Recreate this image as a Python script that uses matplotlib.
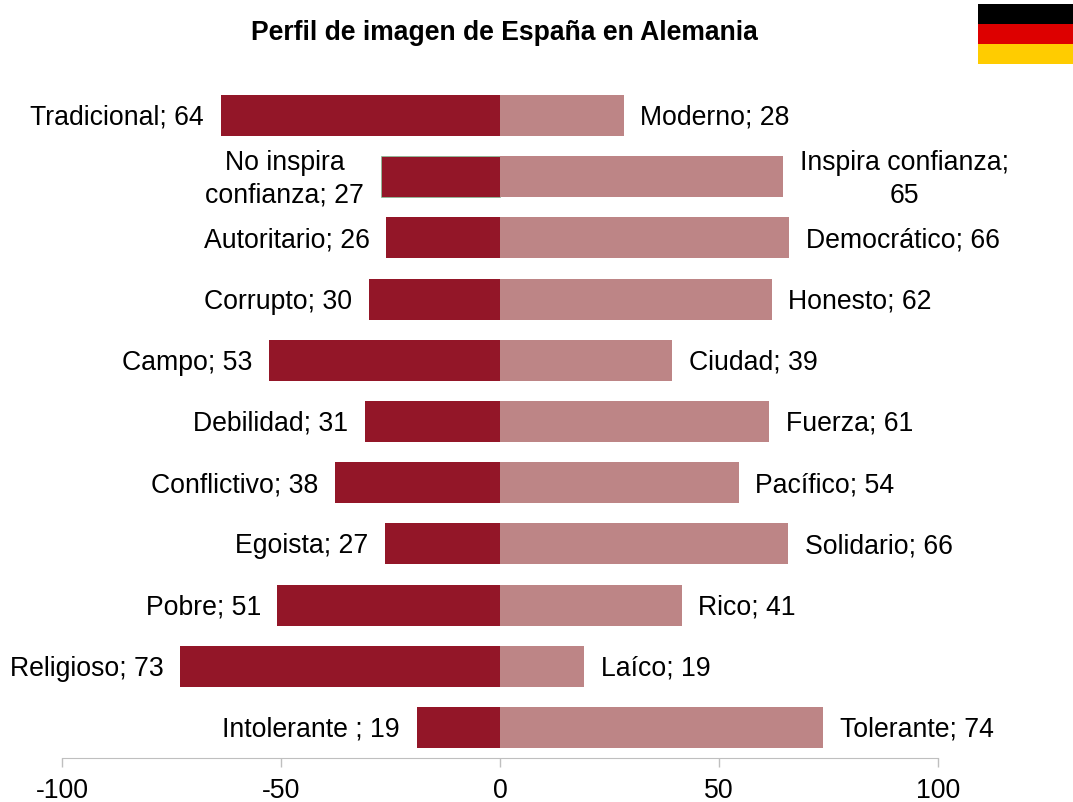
import matplotlib
matplotlib.use('Agg')
import matplotlib.pyplot as plt
from matplotlib.patches import Rectangle

plt.rcParams['font.family'] = ['Liberation Sans', 'DejaVu Sans']
plt.rcParams['axes.unicode_minus'] = False

etiquetas_izq = ['Tradicional; 64', 'No inspira\nconfianza; 27', 'Autoritario; 26', 'Corrupto; 30',
                 'Campo; 53', 'Debilidad; 31', 'Conflictivo; 38', 'Egoista; 27',
                 'Pobre; 51', 'Religioso; 73', 'Intolerante ; 19']
etiquetas_der = ['Moderno; 28', 'Inspira confianza;\n65', 'Democrático; 66', 'Honesto; 62',
                 'Ciudad; 39', 'Fuerza; 61', 'Pacífico; 54', 'Solidario; 66',
                 'Rico; 41', 'Laíco; 19', 'Tolerante; 74']
# longitud de las barras
valores_izq = [63.8, 27.2, 26, 30, 52.8, 30.8, 37.6, 26.3, 50.8, 73, 19]
valores_der = [28.2, 64.7, 66, 62, 39.3, 61.4, 54.5, 65.8, 41.5, 19.2, 73.8]
ticks = [-100, -50, 0, 50, 100]

W, H = 1073, 803
fig = plt.figure(figsize=(W / 100, H / 100), dpi=100)
ax = fig.add_axes([62 / W, 1 - 759 / H, (938 - 62) / W, (759 - 86) / H])

posiciones = list(range(len(valores_izq)))
barras_izq = ax.barh(posiciones, [-v for v in valores_izq], height=0.67, color='#931628')
ax.barh(posiciones, valores_der, height=0.67, color='#bd8586')
# la barra de "No inspira" tiene un borde verde muy fino
barras_izq[1].set_edgecolor('#7fc79a')
barras_izq[1].set_linewidth(0.5)

ax.set_xlim(-100, 100)
ax.set_ylim(len(valores_izq) - 0.5, -0.5)
ax.set_yticks([])
ax.set_xticks(ticks)
ax.tick_params(axis='x', length=6.5, width=1, color='#bfbfbf', labelsize=19.2, pad=7, labelcolor='black')
for lado in ['top', 'left', 'right']:
    ax.spines[lado].set_visible(False)
ax.spines['bottom'].set_color('#bfbfbf')

for y, v, t in zip(posiciones, valores_izq, etiquetas_izq):
    ax.annotate(t, (-v, y), xytext=(-12, -1), textcoords='offset points', ha='right', va='center',
                multialignment='center', fontsize=19.2, linespacing=1.35)
for y, v, t in zip(posiciones, valores_der, etiquetas_der):
    ax.annotate(t, (v, y), xytext=(12, -1), textcoords='offset points', ha='left', va='center',
                multialignment='center', fontsize=19.2, linespacing=1.35)

fig.text(504 / W, 1 - 33 / H, 'Perfil de imagen de España en Alemania', ha='center', va='center',
         fontsize=19.1, fontweight='bold')

# bandera
for i, c in enumerate(['#000000', '#dd0000', '#ffcc00']):
    fig.add_artist(Rectangle((978 / W, 1 - (5 + 20 * (i + 1)) / H), 95 / W, 20 / H,
                             transform=fig.transFigure, color=c, lw=0))

fig.savefig('out.png', dpi=100)
